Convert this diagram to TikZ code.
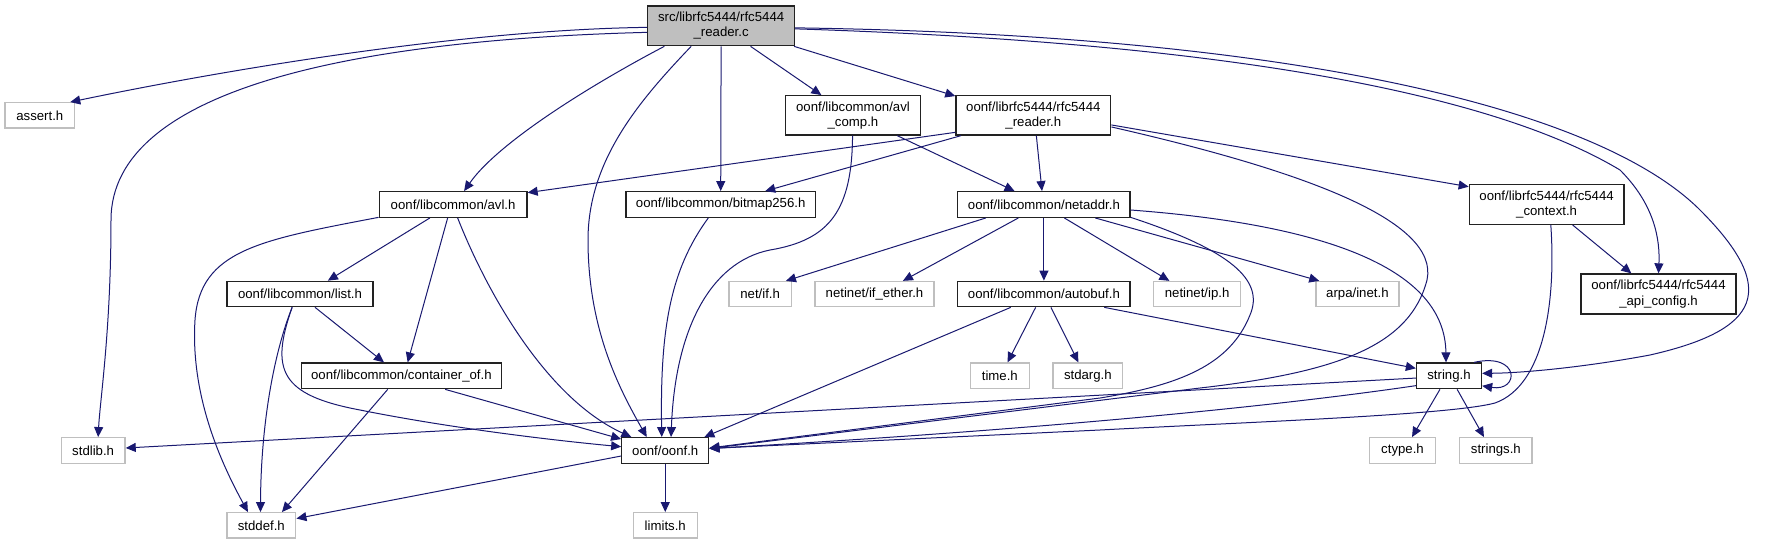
\documentclass[tikz,border=0pt]{standalone}
\usepackage{fontspec}
\setmainfont{Liberation Sans}
\usetikzlibrary{arrows.meta,calc}
\definecolor{edgeblue}{HTML}{191970}
\definecolor{sysgray}{HTML}{BFBFBF}
\definecolor{mainfill}{HTML}{BFBFBF}
\definecolor{boxline}{HTML}{222222}
\tikzset{
  nbox/.style={draw=boxline, line width=1.3pt, fill=white, inner sep=0pt, align=center,
    font=\fontsize{13.2}{15.3}\selectfont},
  sbox/.style={nbox, draw=sysgray},
  mbox/.style={nbox, fill=mainfill},
  e/.style={draw=edgeblue, line width=1pt, -{Triangle[length=10pt,width=9pt]}, edgeblue},
}
\begin{document}
\begin{tikzpicture}[x=1pt,y=-1pt]
\useasboundingbox[fill=white] (0,0) rectangle (1767,544);
% nodes
\node[mbox, minimum width=146.6pt, minimum height=39.7pt] (main) at (721.1,25.85) {src/librfc5444/rfc5444\\\_reader.c};
\node[sbox, minimum width=69.6pt, minimum height=25.3pt] (assert) at (39.8,115.35) {assert.h};
\node[nbox, minimum width=134.7pt, minimum height=39.3pt] (avlcomp) at (852.95,115.35) {oonf/libcommon/avl\\\_comp.h};
\node[nbox, minimum width=154.9pt, minimum height=39.3pt] (reader) at (1033.35,115.35) {oonf/librfc5444/rfc5444\\\_reader.h};
\node[nbox, minimum width=147.8pt, minimum height=25.6pt] (avl) at (453.1,204.5) {oonf/libcommon/avl.h};
\node[nbox, minimum width=189.4pt, minimum height=25.6pt] (bitmap) at (720.7,204.5) {oonf/libcommon/bitmap256.h};
\node[nbox, minimum width=172.2pt, minimum height=25.6pt] (netaddr) at (1043.9,204.5) {oonf/libcommon/netaddr.h};
\node[nbox, minimum width=154.6pt, minimum height=40pt] (context) at (1546.6,204.3) {oonf/librfc5444/rfc5444\\\_context.h};
\node[nbox, minimum width=155pt, minimum height=40pt] (api) at (1658.5,294) {oonf/librfc5444/rfc5444\\\_api\_config.h};
\node[nbox, minimum width=146.2pt, minimum height=25.4pt] (list) at (300,294) {oonf/libcommon/list.h};
\node[sbox, minimum width=62.3pt, minimum height=25pt] (netif) at (760.15,294) {net/if.h};
\node[sbox, minimum width=119pt, minimum height=25pt] (ifether) at (874.5,294) {netinet/if\_ether.h};
\node[nbox, minimum width=172.2pt, minimum height=25.4pt] (autobuf) at (1043.9,294) {oonf/libcommon/autobuf.h};
\node[sbox, minimum width=86.8pt, minimum height=25pt] (netip) at (1197.1,294) {netinet/ip.h};
\node[sbox, minimum width=83pt, minimum height=25pt] (arpa) at (1357.4,294) {arpa/inet.h};
\node[nbox, minimum width=199.8pt, minimum height=25.7pt] (container) at (401.4,375.85) {oonf/libcommon/container\_of.h};
\node[sbox, minimum width=58.9pt, minimum height=25.7pt] (time) at (999.85,375.85) {time.h};
\node[sbox, minimum width=69.7pt, minimum height=25.7pt] (stdarg) at (1087.85,375.85) {stdarg.h};
\node[nbox, minimum width=65pt, minimum height=25.7pt] (string) at (1449,375.85) {string.h};
\node[sbox, minimum width=63.9pt, minimum height=25.6pt] (stdlib) at (93.15,450.5) {stdlib.h};
\node[nbox, minimum width=86.9pt, minimum height=25.6pt] (oonf) at (665.25,450.5) {oonf/oonf.h};
\node[sbox, minimum width=65.4pt, minimum height=25.6pt] (ctype) at (1402.5,450.5) {ctype.h};
\node[sbox, minimum width=72.3pt, minimum height=25.6pt] (strings) at (1495.85,450.5) {strings.h};
\node[sbox, minimum width=68.9pt, minimum height=25.3pt] (stddef) at (261.35,525.35) {stddef.h};
\node[sbox, minimum width=63.9pt, minimum height=25.3pt] (limits) at (665.25,525.35) {limits.h};
% edges from main
\draw[e] ($(main.west)+(0,1.5)$) .. controls (450,30) and (200,75) .. ($(assert.north east)+(-5,0)$);
\draw[e] ($(main.west)+(0,6.5)$) .. controls (350,40) and (111,90) .. (111,220) .. controls (111,330) and (100,400) .. ($(stdlib.north)+(5,0)$);
\draw[e] ($(main.south west)+(17.2,0)$) .. controls (600,80) and (500,140) .. ($(avl.north)+(11,0)$);
\draw[e] ($(main.south west)+(44,0)$) .. controls (640,100) and (588,160) .. (588,240) .. controls (588,330) and (620,390) .. ($(oonf.north)+(-18.5,0)$);
\draw[e] (main.south) -- (bitmap.north);
\draw[e] ($(main.south west)+(103.4,0)$) -- ($(avlcomp.north west)+(36.4,0)$);
\draw[e] ($(main.south east)+(-1,0)$) -- ($(reader.north west)+(0,1)$);
\draw[e] ($(main.east)+(0,3)$) .. controls (1300,45) and (1520,110) .. (1620,170) .. controls (1655,205) and (1660,240) .. (api.north);
\draw[e] ($(main.east)+(0,2)$) .. controls (1300,35) and (1600,110) .. (1700,210) .. controls (1780,290) and (1760,330) .. (1650,355) .. controls (1580,368) and (1520,373) .. ($(string.east)+(0,-2.5)$);
% avl_comp
\draw[e] ($(avlcomp.south)+(-0.4,0)$) .. controls (852,210) and (830,240) .. (770,250) .. controls (710,262) and (675,330) .. ($(oonf.north)+(5.8,0)$);
\draw[e] ($(avlcomp.south east)+(-23.7,0)$) -- ($(netaddr.north west)+(57.4,0)$);
% reader.h
\draw[e] ($(reader.south west)+(0,-3.3)$) -- ($(avl.north east)+(0,1.6)$);
\draw[e] ($(reader.south west)+(5.7,0)$) -- ($(bitmap.north east)+(-50.8,0)$);
\draw[e] ($(reader.south)+(3,0)$) -- ($(netaddr.north)+(-1.9,0)$);
\draw[e] ($(reader.east)+(0,9.6)$) -- ($(context.west)+(0,-17.6)$);
\draw[e] ($(reader.east)+(0,11.6)$) .. controls (1300,170) and (1440,220) .. (1427,280) .. controls (1410,345) and (1340,372) .. (1200,388) -- ($(oonf.east)+(0,-2)$);
% netaddr
\draw[e] ($(netaddr.south west)+(28.7,0)$) -- ($(netif.north east)+(-6,0)$);
\draw[e] ($(netaddr.south west)+(61.2,0)$) -- ($(ifether.north east)+(-31.7,0)$);
\draw[e] (netaddr.south) -- (autobuf.north);
\draw[e] ($(netaddr.south west)+(107.2,0)$) -- ($(netip.north west)+(16.3,0)$);
\draw[e] ($(netaddr.south east)+(-35.4,0)$) -- ($(arpa.north west)+(4,0)$);
\draw[e] ($(netaddr.east)+(0,5.5)$) .. controls (1330,225) and (1445,270) .. ($(string.north)+(-3,0)$);
\draw[e] ($(netaddr.south east)+(0,-0.6)$) .. controls (1230,250) and (1265,280) .. (1250,315) .. controls (1230,365) and (1180,385) .. (1100,398) -- ($(oonf.east)+(0,-2.5)$);
% context
\draw[e] ($(context.south)+(26,0)$) -- ($(api.north west)+(51,0)$);
\draw[e] ($(context.south)+(4.2,0)$) .. controls (1556,300) and (1545,385) .. (1495,403) .. controls (1450,415) and (1250,422) .. (1100,430) -- ($(oonf.east)+(0,-2)$);
% avl.h
\draw[e] ($(avl.south west)+(51.3,0)$) -- ($(list.north east)+(-45.9,0)$);
\draw[e] ($(avl.south west)+(69.1,0)$) -- ($(container.north west)+(106.8,0)$);
\draw[e] ($(avl.south west)+(79.1,0)$) .. controls (490,300) and (550,400) .. ($(oonf.north west)+(10.2,0)$);
\draw[e] ($(avl.south west)+(0,-0.6)$) .. controls (260,240) and (200,250) .. (195,320) .. controls (190,400) and (225,470) .. ($(stddef.north)+(-13.4,0)$);
% list.h
\draw[e] ($(list.south west)+(88.8,0)$) -- ($(container.north west)+(83.1,0)$);
\draw[e] ($(list.south west)+(65.9,0)$) .. controls (275,350) and (261,420) .. ($(stddef.north)+(-0.9,0)$);
\draw[e] ($(list.south west)+(65.9,0)$) .. controls (270,370) and (280,395) .. (360,410) .. controls (450,428) and (550,440) .. ($(oonf.west)+(0,-3.8)$);
% container_of
\draw[e] ($(container.south west)+(86.9,0)$) -- ($(stddef.north east)+(-14.5,0)$);
\draw[e] ($(container.south west)+(144.3,0)$) -- ($(oonf.north west)+(0,2)$);
% bitmap
\draw[e] ($(bitmap.south)+(-12.4,0)$) .. controls (670,270) and (660,330) .. ($(oonf.north)+(-3.5,0)$);
% autobuf
\draw[e] ($(autobuf.south west)+(53.6,0)$) -- ($(oonf.north east)+(-5,0)$);
\draw[e] ($(autobuf.south west)+(78.5,0)$) -- ($(time.north)+(7.7,0)$);
\draw[e] ($(autobuf.south west)+(93.8,0)$) -- ($(stdarg.north)+(-9.5,0)$);
\draw[e] ($(autobuf.south east)+(-26.4,0)$) -- ($(string.west)+(0,-7.5)$);
% string.h
\draw[e] ($(string.north east)+(-8,0)$) .. controls (1520,352) and (1520,392) .. ($(string.east)+(0,10)$);
\draw[e] ($(string.west)+(0,2.2)$) -- ($(stdlib.east)+(0,-2.5)$);
\draw[e] ($(string.west)+(0,9.8)$) .. controls (1250,410) and (1000,432) .. ($(oonf.east)+(0,-2)$);
\draw[e] ($(string.south west)+(24.1,0)$) -- ($(ctype.north)+(9.5,0)$);
\draw[e] ($(string.south west)+(41.3,0)$) -- ($(strings.north west)+(24.9,0)$);
% oonf.h
\draw[e] ($(oonf.west)+(0,5.5)$) -- ($(stddef.east)+(0,-6.8)$);
\draw[e] (oonf.south) -- (limits.north);
\end{tikzpicture}
\end{document}
